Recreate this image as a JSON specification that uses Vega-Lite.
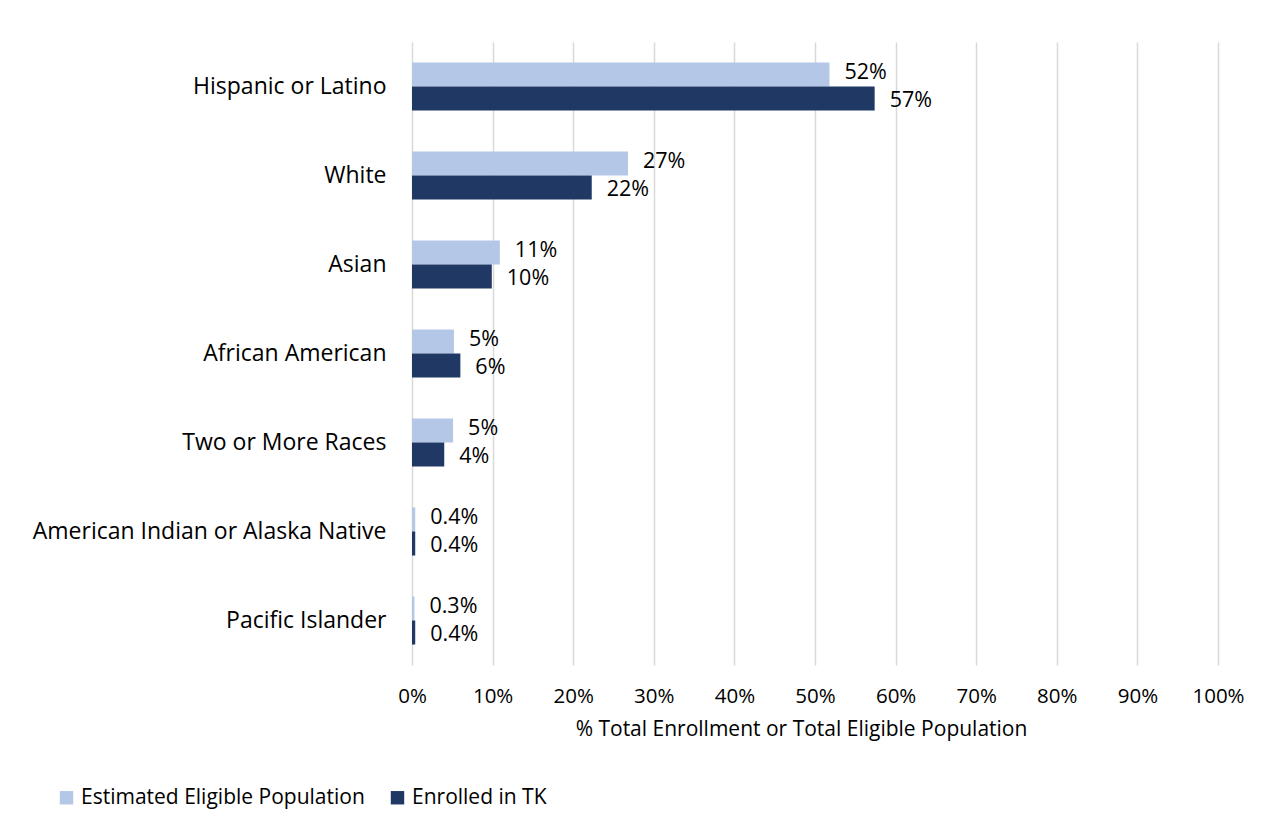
{
  "$schema": "https://vega.github.io/schema/vega-lite/v6.json",
  "autosize": {"type": "none"},
  "width": 806,
  "height": 623,
  "padding": {"left": 412, "top": 42, "right": 46, "bottom": 166},
  "background": "white",
  "data": {"values": [
    {"group": "Hispanic or Latino", "series": "Estimated Eligible Population", "value": 0.518, "label": "52%"},
    {"group": "Hispanic or Latino", "series": "Enrolled in TK", "value": 0.574, "label": "57%"},
    {"group": "White", "series": "Estimated Eligible Population", "value": 0.268, "label": "27%"},
    {"group": "White", "series": "Enrolled in TK", "value": 0.223, "label": "22%"},
    {"group": "Asian", "series": "Estimated Eligible Population", "value": 0.109, "label": "11%"},
    {"group": "Asian", "series": "Enrolled in TK", "value": 0.099, "label": "10%"},
    {"group": "African American", "series": "Estimated Eligible Population", "value": 0.052, "label": "5%"},
    {"group": "African American", "series": "Enrolled in TK", "value": 0.060, "label": "6%"},
    {"group": "Two or More Races", "series": "Estimated Eligible Population", "value": 0.051, "label": "5%"},
    {"group": "Two or More Races", "series": "Enrolled in TK", "value": 0.040, "label": "4%"},
    {"group": "American Indian or Alaska Native", "series": "Estimated Eligible Population", "value": 0.004, "label": "0.4%"},
    {"group": "American Indian or Alaska Native", "series": "Enrolled in TK", "value": 0.004, "label": "0.4%"},
    {"group": "Pacific Islander", "series": "Estimated Eligible Population", "value": 0.003, "label": "0.3%"},
    {"group": "Pacific Islander", "series": "Enrolled in TK", "value": 0.004, "label": "0.4%"}
  ]},
  "encoding": {
    "y": {
      "field": "group", "type": "nominal", "sort": null,
      "scale": {"paddingInner": 0.46, "paddingOuter": 0.23},
      "axis": {"title": null, "ticks": false, "domain": false, "labelPadding": 26, "labelFontSize": 23, "labelFont": "Open Sans", "labelColor": "#000000", "labelLimit": 500}
    },
    "yOffset": {"field": "series", "type": "nominal", "sort": ["Estimated Eligible Population", "Enrolled in TK"]},
    "x": {
      "field": "value", "type": "quantitative",
      "scale": {"domain": [0, 1]},
      "axis": {"format": ".0%", "values": [0,0.1,0.2,0.3,0.4,0.5,0.6,0.7,0.8,0.9,1], "labelOverlap": false, "labelFlush": false, "title": "% Total Enrollment or Total Eligible Population", "titleFont": "Open Sans", "titleFontSize": 21, "titleFontWeight": "normal", "titleColor": "#000000", "titlePadding": 12, "titleX": 389, "titleAlign": "center", "labelFont": "Open Sans", "labelFontSize": 20.5, "labelColor": "#000000", "labelPadding": 21, "ticks": false, "domain": false, "grid": true, "gridColor": "#d9d9d9", "gridWidth": 1.5}
    }
  },
  "layer": [
    {
      "mark": {"type": "bar", "cornerRadius": 0},
      "encoding": {
        "color": {
          "field": "series", "type": "nominal",
          "scale": {"domain": ["Estimated Eligible Population", "Enrolled in TK"], "range": ["#b4c7e7", "#203864"]},
          "legend": {"title": null, "orient": "none", "legendX": -356, "legendY": 745, "direction": "horizontal", "symbolType": "square", "symbolSize": 180, "symbolStrokeWidth": 0, "labelFont": "Open Sans", "labelFontSize": 21, "labelColor": "#000000", "columnPadding": 22, "labelOffset": 4, "labelLimit": 400}
        }
      }
    },
    {
      "transform": [{"filter": "datum.series == 'Estimated Eligible Population'"}],
      "mark": {"type": "text", "align": "left", "baseline": "middle", "dx": 15, "dy": -1, "font": "Open Sans", "fontSize": 21.5, "color": "#000000"},
      "encoding": {"text": {"field": "label"}}
    },
    {
      "transform": [{"filter": "datum.series == 'Enrolled in TK'"}],
      "mark": {"type": "text", "align": "left", "baseline": "middle", "dx": 15, "dy": 2, "font": "Open Sans", "fontSize": 21.5, "color": "#000000"},
      "encoding": {"text": {"field": "label"}}
    }
  ],
  "config": {"view": {"stroke": null}}
}
